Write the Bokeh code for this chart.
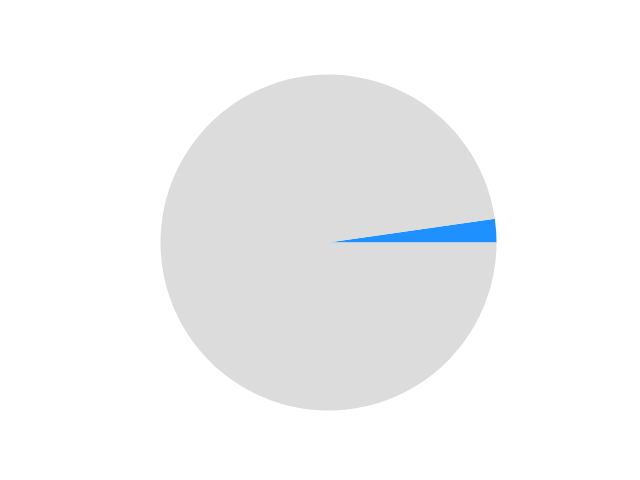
import numpy as np
from bokeh.plotting import figure, ColumnDataSource
from bokeh.models import Range1d
from bokeh.embed import file_html
from bokeh.resources import INLINE

# Pie data (share in percent)
labels = ["Done", "Remaining"]
shares = [2.25, 97.75]
colors = ["#1e90ff", "#dcdcdc"]

angles = np.array(shares) / sum(shares) * 2 * np.pi
ends = np.cumsum(angles)
starts = ends - angles

source = ColumnDataSource(data={
    'label': labels,
    'share': shares,
    'start': starts,
    'end': ends,
    'color': colors
})

p = figure(width=624, height=464, output_backend="svg", toolbar_location=None,
           x_range=Range1d(-328, 296), y_range=Range1d(-222, 242),
           min_border=0)
p.wedge(x=0, y=0, radius=168, start_angle='start', end_angle='end',
        line_color=None, fill_color='color', source=source)

p.axis.visible = False
p.grid.visible = False
p.outline_line_color = None

open("out.html", "w").write(file_html(p, INLINE))
